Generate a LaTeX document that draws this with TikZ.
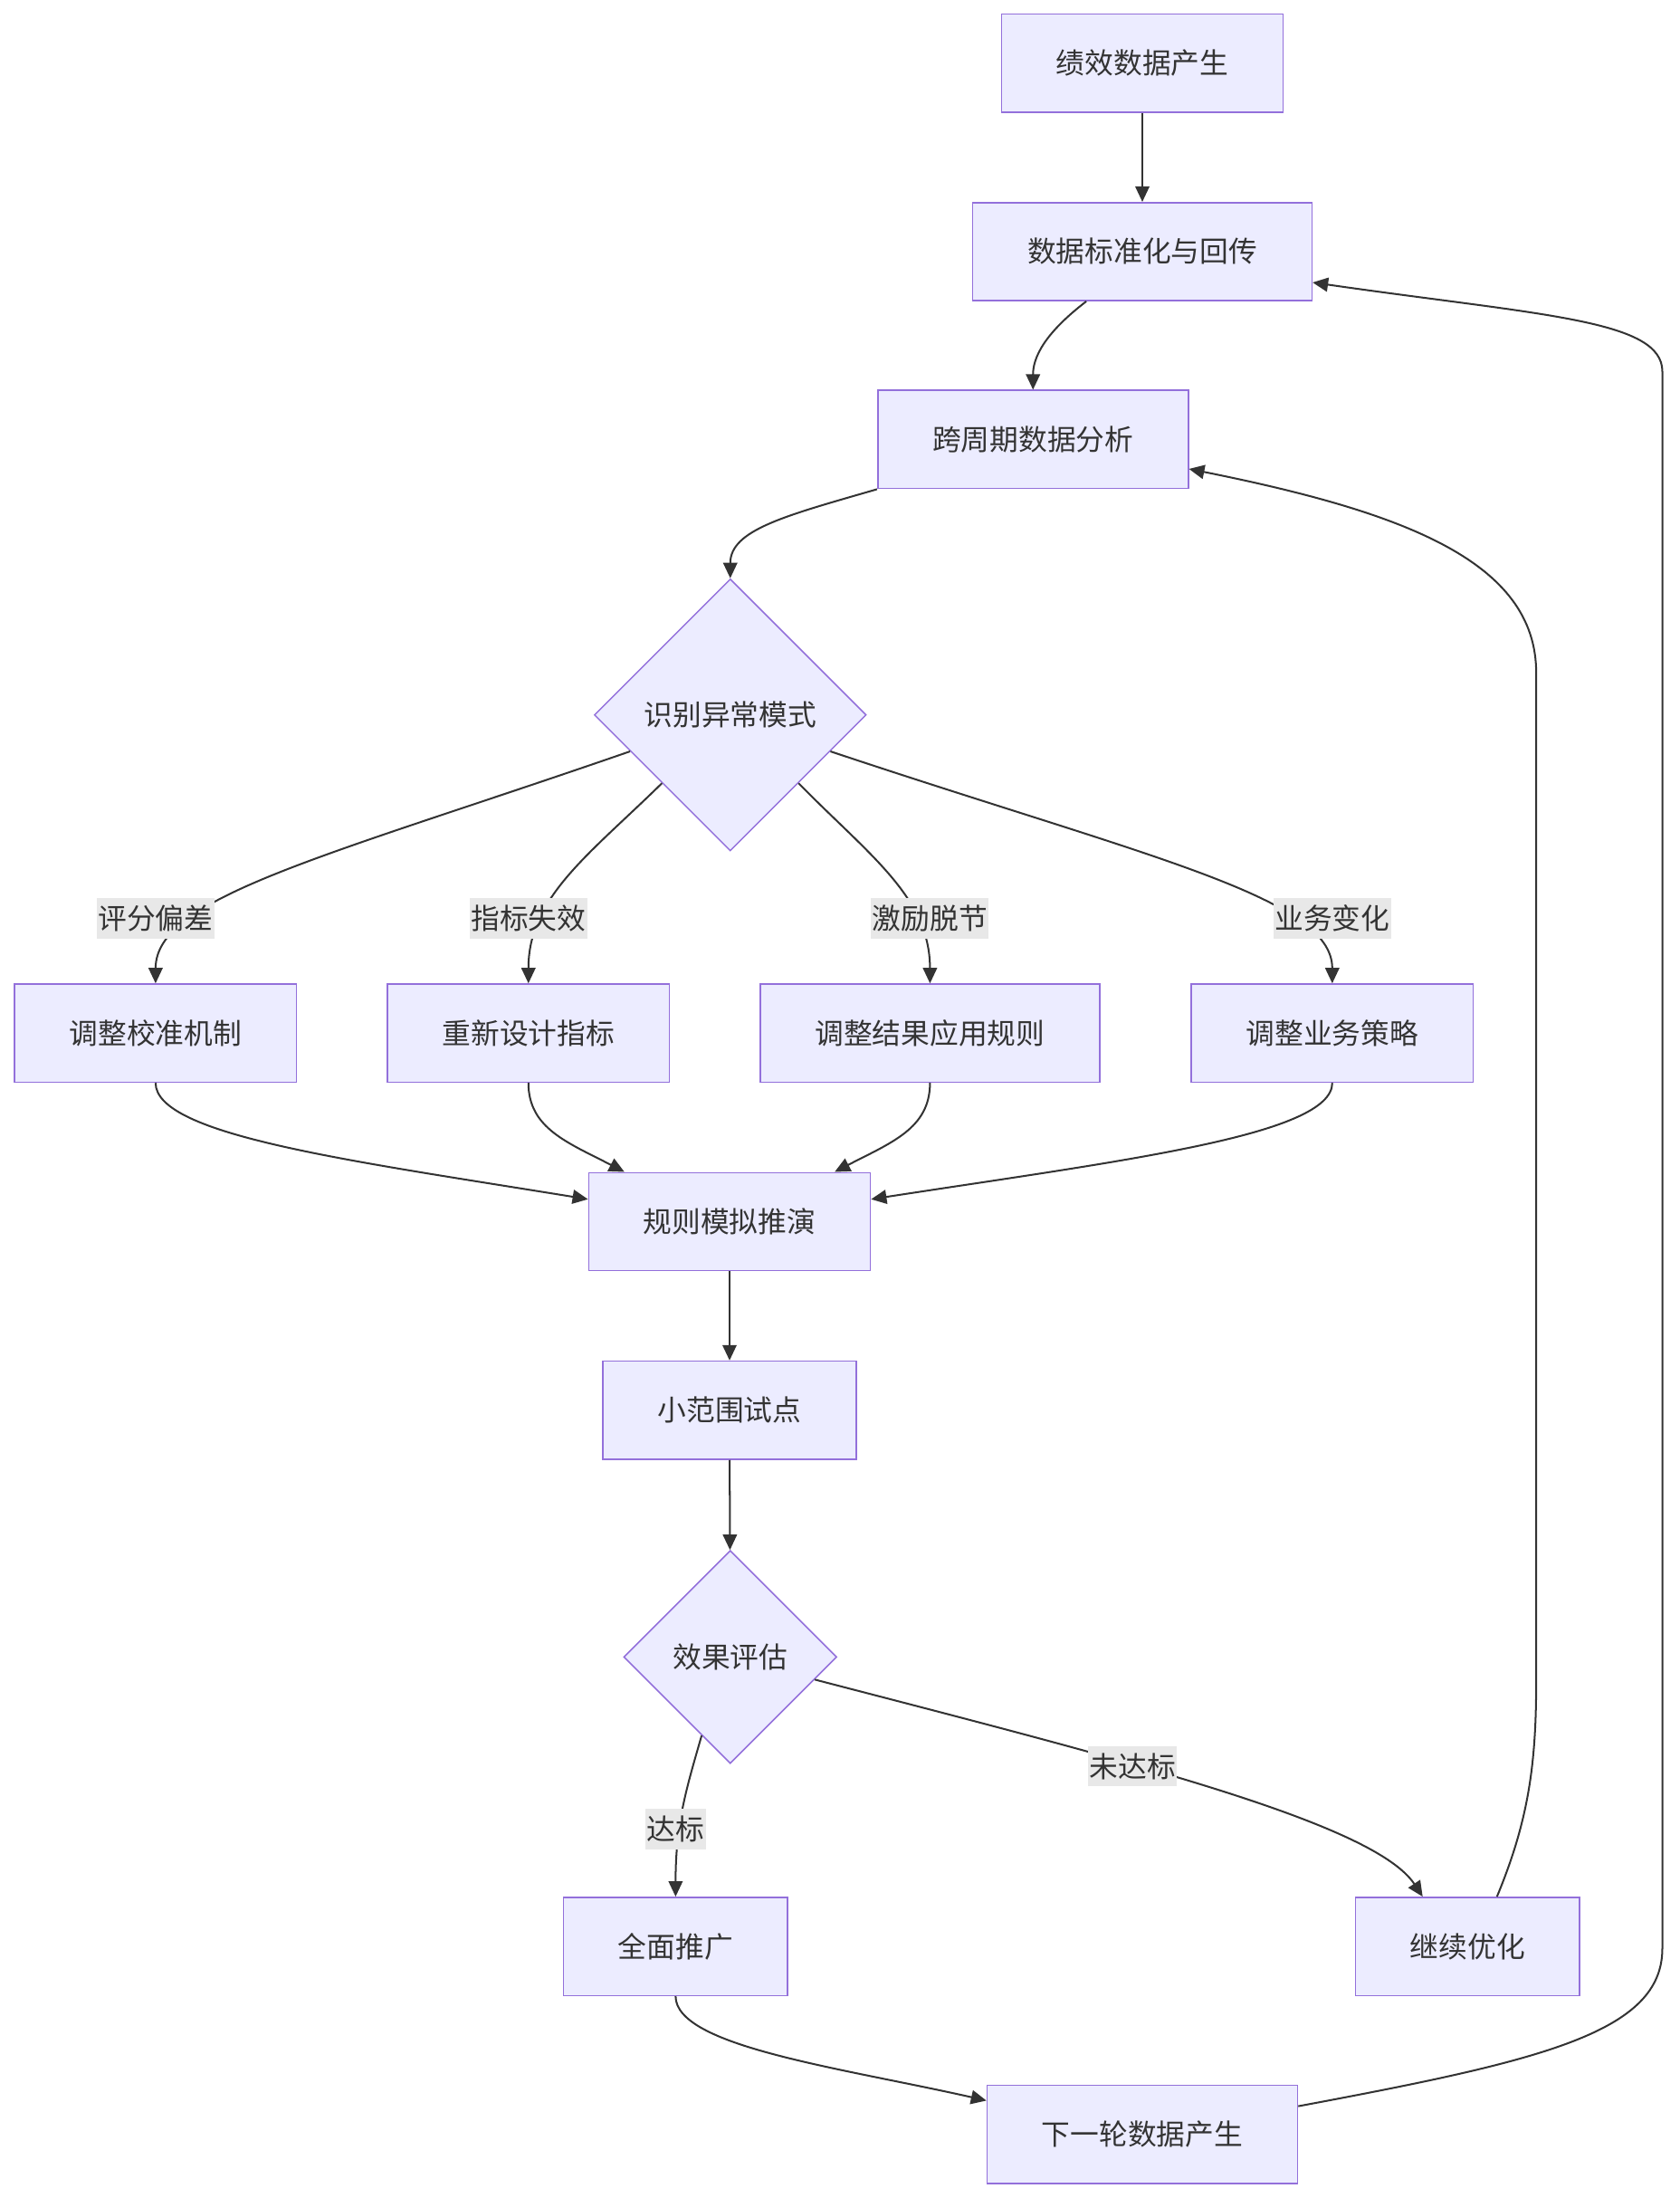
\documentclass[tikz,border=0pt]{standalone}
\usepackage{fontspec}
\usepackage{xcolor}
\usepackage{tikz}
\usetikzlibrary{shapes.geometric,arrows.meta}
\newfontfamily\cjk{Noto Sans CJK SC}
\definecolor{FlowFill}{HTML}{ECECFF}
\definecolor{FlowStroke}{HTML}{9370DB}
\definecolor{FlowLine}{HTML}{333333}
\definecolor{FlowLabel}{HTML}{E8E8E8}
\newcommand{\flowfont}{\cjk\fontsize{20.5}{24}\selectfont}
\tikzset{
  procbox/.style={draw=FlowStroke, fill=FlowFill, line width=1pt, minimum height=70pt,
    inner xsep=39pt, inner ysep=0pt, text=FlowLine, font=\flowfont},
  decision/.style={diamond, aspect=1, draw=FlowStroke, fill=FlowFill, line width=1pt,
    inner sep=0pt, text=FlowLine, font=\flowfont},
  edgelbl/.style={fill=FlowLabel, inner xsep=1pt, inner ysep=5pt, text=FlowLine, font=\flowfont},
  flow/.style={draw=FlowLine, line width=1.3pt, -{Triangle[length=11pt,width=10pt]}}
}

\begin{document}
\begin{tikzpicture}[x=1pt, y=-1pt]
  \useasboundingbox[fill=white] (0,0) rectangle (1198,1568);

  % nodes
  \node[procbox] (gen)   at (815,45)     {绩效数据产生};
  \node[procbox] (norm)  at (815,179.5)  {数据标准化与回传};
  \node[procbox] (cross) at (737,313.5)  {跨周期数据分析};
  \node[decision, minimum width=194pt, minimum height=194pt] (detect) at (521,510) {识别异常模式};
  \node[procbox] (calib) at (111,737)    {调整校准机制};
  \node[procbox] (redes) at (377,737)    {重新设计指标};
  \node[procbox] (apply) at (663.5,737)  {调整结果应用规则};
  \node[procbox] (strat) at (950.5,737)  {调整业务策略};
  \node[procbox] (sim)   at (520.5,871.5) {规则模拟推演};
  \node[procbox] (pilot) at (520.5,1006) {小范围试点};
  \node[decision, minimum width=152pt, minimum height=152pt] (eval) at (521,1182) {效果评估};
  \node[procbox] (rollout) at (482,1388.5)  {全面推广};
  \node[procbox] (optim)   at (1047,1388.5) {继续优化};
  \node[procbox] (nextgen) at (815,1522.5)  {下一轮数据产生};

  % edges
  \draw[flow] (gen) -- (norm);
  \draw[flow] ([xshift=-40pt]norm.south) .. controls (745,238) and (737,255) .. (cross.north);
  \draw[flow] (cross.south west) .. controls (560,368) and (521,378) .. (detect.north);
  \draw[flow] (detect.200) .. controls (230,612) and (111,640) .. (calib.north);
  \draw[flow] (detect.south west) .. controls (420,610) and (377,640) .. (redes.north);
  \draw[flow] (detect.south east) .. controls (620,610) and (663.5,640) .. (apply.north);
  \draw[flow] (detect.340) .. controls (820,612) and (950.5,640) .. (strat.north);
  \draw[flow] (calib.south) .. controls (111,810) and (250,828) .. ([yshift=16pt]sim.west);
  \draw[flow] (redes.south) .. controls (377,805) and (405,815) .. ([xshift=-75pt]sim.north);
  \draw[flow] (apply.south) .. controls (663.5,805) and (636,815) .. ([xshift=75pt]sim.north);
  \draw[flow] (strat.south) .. controls (950.5,810) and (800,828) .. ([yshift=16pt]sim.east);
  \draw[flow] (sim) -- (pilot);
  \draw[flow] (pilot) -- (eval);
  \draw[flow] (eval.250) .. controls (490,1275) and (482,1300) .. (rollout.north);
  \draw[flow] (eval.345) .. controls (800,1255) and (980,1300) .. ([xshift=-32pt]optim.north);
  \draw[flow] (rollout.south) .. controls (482,1460) and (600,1475) .. ([yshift=24pt]nextgen.west);
  \draw[flow] ([yshift=20pt]nextgen.east) .. controls (1100,1470) and (1186,1450) .. (1186,1390)
    -- (1186,265) .. controls (1186,228) and (1100,225) .. ([yshift=-22pt]norm.east);
  \draw[flow] ([xshift=21pt]optim.north) .. controls (1090,1300) and (1096,1260) .. (1096,1200)
    -- (1096,480) .. controls (1096,400) and (1000,365) .. ([yshift=-21pt]cross.east);

  % edge labels
  \node[edgelbl] (lbias)   at (111,655)  {评分偏差};
  \node[edgelbl] (lfail)   at (377,655)  {指标失效};
  \node[edgelbl] (lincent) at (663.5,655) {激励脱节};
  \node[edgelbl] (lbiz)    at (950.5,655) {业务变化};
  \node[edgelbl] (lmiss)   at (808,1260) {未达标};
  \node[edgelbl] (lpass)   at (482,1305) {达标};
\end{tikzpicture}
\end{document}
